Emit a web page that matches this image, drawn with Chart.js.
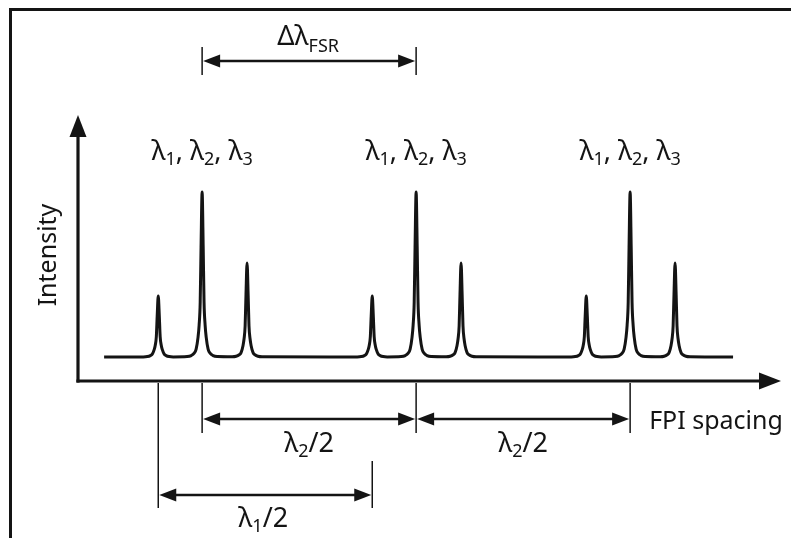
<!DOCTYPE html>
<html>
<head>
<meta charset="utf-8">
<script src="https://cdn.jsdelivr.net/npm/chart.js@4.4.1/dist/chart.umd.min.js"></script>
<style>
  html, body { margin: 0; padding: 0; background: #fff; }
  #wrap { width: 791px; height: 538px; position: relative; }
</style>
</head>
<body>
<div id="wrap"><canvas id="c"></canvas></div>
<script>
// ---- data (x: FPI spacing, arbitrary units; y: intensity, main peak = 1) ----
const order1Spacing = [54.2, 72.5, 74.4, 75.8, 76.7, 77.6, 78.1, 78.6, 79.0, 79.5, 80.0, 80.4, 80.9, 81.4, 82.3, 83.2, 84.6, 86.5,
  93, 94.9, 96.3, 97.2, 98.1, 98.6, 99.1, 99.5, 100, 100.5, 100.9, 101.4, 101.9, 102.8, 103.7, 105.1, 107,
  114, 115.9, 117.3, 118.2, 119.1, 119.6, 120.1, 120.5, 121, 121.5, 121.9, 122.4, 122.9, 123.8, 124.7, 126.1, 128];
const order1Intensity = [0, 0.001, 0.003, 0.009, 0.018, 0.045, 0.072, 0.123, 0.247, 0.37, 0.247, 0.123, 0.072, 0.045, 0.018, 0.009, 0.003, 0.001,
  0.003, 0.009, 0.024, 0.048, 0.121, 0.194, 0.333, 0.667, 1.0, 0.667, 0.333, 0.194, 0.121, 0.048, 0.024, 0.009, 0.003,
  0.002, 0.005, 0.014, 0.027, 0.069, 0.111, 0.19, 0.38, 0.57, 0.38, 0.19, 0.111, 0.069, 0.027, 0.014, 0.005, 0.002];

const order2Spacing = [172.5, 174.4, 175.8, 176.7, 177.6, 178.1, 178.6, 179.0, 179.5, 180.0, 180.4, 180.9, 181.4, 182.3, 183.2, 184.6, 186.5,
  193, 194.9, 196.3, 197.2, 198.1, 198.6, 199.1, 199.5, 200, 200.5, 200.9, 201.4, 201.9, 202.8, 203.7, 205.1, 207,
  214, 215.9, 217.3, 218.2, 219.1, 219.6, 220.1, 220.5, 221, 221.5, 221.9, 222.4, 222.9, 223.8, 224.7, 226.1, 228];
const order2Intensity = [0.001, 0.003, 0.009, 0.018, 0.045, 0.072, 0.123, 0.247, 0.37, 0.247, 0.123, 0.072, 0.045, 0.018, 0.009, 0.003, 0.001,
  0.003, 0.009, 0.024, 0.048, 0.121, 0.194, 0.333, 0.667, 1.0, 0.667, 0.333, 0.194, 0.121, 0.048, 0.024, 0.009, 0.003,
  0.002, 0.005, 0.014, 0.027, 0.069, 0.111, 0.19, 0.38, 0.57, 0.38, 0.19, 0.111, 0.069, 0.027, 0.014, 0.005, 0.002];

const order3Spacing = [272.5, 274.4, 275.8, 276.7, 277.6, 278.1, 278.6, 279.0, 279.5, 280.0, 280.4, 280.9, 281.4, 282.3, 283.2, 284.6, 286.5,
  293, 294.9, 296.3, 297.2, 298.1, 298.6, 299.1, 299.5, 300, 300.5, 300.9, 301.4, 301.9, 302.8, 303.7, 305.1, 307,
  314, 315.9, 317.3, 318.2, 319.1, 319.6, 320.1, 320.5, 321, 321.5, 321.9, 322.4, 322.9, 323.8, 324.7, 326.1, 328, 348.1];
const order3Intensity = [0.001, 0.003, 0.009, 0.018, 0.045, 0.072, 0.123, 0.247, 0.37, 0.247, 0.123, 0.072, 0.045, 0.018, 0.009, 0.003, 0.001,
  0.003, 0.009, 0.024, 0.048, 0.121, 0.194, 0.333, 0.667, 1.0, 0.667, 0.333, 0.194, 0.121, 0.048, 0.024, 0.009, 0.003,
  0.002, 0.005, 0.014, 0.027, 0.069, 0.111, 0.19, 0.38, 0.57, 0.38, 0.19, 0.111, 0.069, 0.027, 0.014, 0.005, 0.002, 0];

// peak positions (FPI spacing units)
const mainPeaks = [100, 200, 300];            // λ2 orders
const lambda1Peaks = [79.5, 179.5];           // λ1 orders used for λ1/2
const peakLabels = ['λ_1, λ_2, λ_3', 'λ_1, λ_2, λ_3', 'λ_1, λ_2, λ_3'];
const fsrSpan = [100, 200];
const fsrLabel = 'Δλ_{FSR}';
const halfLambda2Spans = [[100, 200], [200, 300]];
const halfLambda2Label = 'λ_2/2';
const halfLambda1Span = [79.5, 179.5];
const halfLambda1Label = 'λ_1/2';
const xTitle = 'FPI spacing';
const yTitle = 'Intensity';
const xRange = [42, 370.5];
const yRange = [-0.145, 1.467];

// ---- build points ----
const points = [];
[[order1Spacing, order1Intensity], [order2Spacing, order2Intensity], [order3Spacing, order3Intensity]].forEach(([xs, ys]) => {
  xs.forEach((x, i) => points.push({ x: x, y: ys[i] }));
});

const FONT = '"Noto Sans", "Open Sans", sans-serif';
const INK = '#141414';

function parseRich(s) {
  const segs = []; let i = 0, buf = '';
  while (i < s.length) {
    if (s[i] === '_') {
      if (buf) { segs.push({ t: buf, sub: false }); buf = ''; }
      if (s[i + 1] === '{') { const j = s.indexOf('}', i); segs.push({ t: s.slice(i + 2, j), sub: true }); i = j + 1; }
      else { segs.push({ t: s[i + 1], sub: true }); i += 2; }
    } else { buf += s[i]; i++; }
  }
  if (buf) segs.push({ t: buf, sub: false });
  return segs;
}
function drawRich(ctx, s, x, y, align, size, subSize, subDrop) {
  const segs = parseRich(s);
  let w = 0;
  segs.forEach(g => { ctx.font = (g.sub ? subSize : size) + 'px ' + FONT; g.w = ctx.measureText(g.t).width; w += g.w; });
  let cx = align === 'center' ? x - w / 2 : (align === 'right' ? x - w : x);
  ctx.textAlign = 'left'; ctx.textBaseline = 'alphabetic';
  segs.forEach(g => {
    ctx.font = (g.sub ? subSize : size) + 'px ' + FONT;
    ctx.fillText(g.t, cx, g.sub ? y + subDrop : y);
    cx += g.w;
  });
}
function head(ctx, tx, ty, dir, len, half) {
  // dir: 'left','right','up'
  ctx.beginPath();
  if (dir === 'left') { ctx.moveTo(tx, ty); ctx.lineTo(tx + len, ty - half); ctx.lineTo(tx + len, ty + half); }
  else if (dir === 'right') { ctx.moveTo(tx, ty); ctx.lineTo(tx - len, ty - half); ctx.lineTo(tx - len, ty + half); }
  else { ctx.moveTo(tx, ty); ctx.lineTo(tx - half, ty + len); ctx.lineTo(tx + half, ty + len); }
  ctx.closePath(); ctx.fill();
}
function vline(ctx, x, y1, y2, w) {
  ctx.lineWidth = w; ctx.beginPath(); ctx.moveTo(x, y1); ctx.lineTo(x, y2); ctx.stroke();
}
function dimArrow(ctx, x1, x2, y) {
  ctx.lineWidth = 2.6;
  ctx.beginPath(); ctx.moveTo(x1 + 10, y); ctx.lineTo(x2 - 10, y); ctx.stroke();
  head(ctx, x1 + 1, y, 'left', 17, 6.5);
  head(ctx, x2 - 1, y, 'right', 17, 6.5);
}

const sketchPlugin = {
  id: 'sketch',
  afterDraw(chart) {
    const ctx = chart.ctx, xs = chart.scales.x, ys = chart.scales.y, a = chart.chartArea;
    const X = v => xs.getPixelForValue(v);
    ctx.save();
    ctx.strokeStyle = INK; ctx.fillStyle = INK; ctx.lineCap = 'butt';

    // frame
    ctx.lineWidth = 3;
    ctx.beginPath(); ctx.moveTo(10.5, 540); ctx.lineTo(10.5, 9.5); ctx.lineTo(795, 9.5); ctx.stroke();

    // axes
    const ox = X(xRange[0]), oy = ys.getPixelForValue(yRange[0]);
    ctx.lineWidth = 3.2;
    ctx.beginPath(); ctx.moveTo(ox, oy + 1.6); ctx.lineTo(ox, a.top + 14); ctx.stroke();
    ctx.beginPath(); ctx.moveTo(ox - 1.6, oy); ctx.lineTo(a.right - 14, oy); ctx.stroke();
    head(ctx, ox, a.top, 'up', 22, 8.5);
    head(ctx, a.right, oy, 'right', 22, 8.5);

    // FSR dimension
    const fy = a.top - 54;
    vline(ctx, X(fsrSpan[0]), fy - 14, fy + 14, 1.5);
    vline(ctx, X(fsrSpan[1]), fy - 14, fy + 14, 1.5);
    dimArrow(ctx, X(fsrSpan[0]), X(fsrSpan[1]), fy);
    drawRich(ctx, fsrLabel, (X(fsrSpan[0]) + X(fsrSpan[1])) / 2 - 1, a.top - 70, 'center', 27, 18, 7);

    // peak labels
    mainPeaks.forEach((p, i) => drawRich(ctx, peakLabels[i], X(p), a.top + 45, 'center', 27, 18, 5));

    // ticks below axis
    const t0 = oy + 2;
    mainPeaks.forEach(p => vline(ctx, X(p), t0, a.bottom + 52, 1.5));
    vline(ctx, X(lambda1Peaks[0]), t0, a.bottom + 127, 1.5);
    vline(ctx, X(lambda1Peaks[1]), a.bottom + 80, a.bottom + 127, 1.5);

    // λ2/2 arrows
    halfLambda2Spans.forEach(s => {
      dimArrow(ctx, X(s[0]), X(s[1]), a.bottom + 38);
      drawRich(ctx, halfLambda2Label, (X(s[0]) + X(s[1])) / 2, a.bottom + 71, 'center', 27, 18, 5);
    });
    // λ1/2 arrow
    dimArrow(ctx, X(halfLambda1Span[0]), X(halfLambda1Span[1]), a.bottom + 114);
    drawRich(ctx, halfLambda1Label, (X(halfLambda1Span[0]) + X(halfLambda1Span[1])) / 2 - 2, a.bottom + 146, 'center', 27, 18, 5);

    // axis titles
    drawRich(ctx, xTitle, X(mainPeaks[2]) + 19, a.bottom + 48, 'left', 25, 17, 5);
    ctx.save();
    ctx.translate(a.left - 22, (a.top + a.bottom) / 2 + 7);
    ctx.rotate(-Math.PI / 2);
    drawRich(ctx, yTitle, 0, 0, 'center', 25, 17, 5);
    ctx.restore();

    ctx.restore();
  }
};

new Chart(document.getElementById('c'), {
  type: 'line',
  data: {
    datasets: [{
      data: points,
      borderColor: INK,
      borderWidth: 3,
      pointRadius: 0,
      fill: false,
      cubicInterpolationMode: 'monotone',
      borderJoinStyle: 'round',
      borderCapStyle: 'butt'
    }]
  },
  options: {
    responsive: true,
    maintainAspectRatio: false,
    animation: false,
    events: [],
    layout: { padding: { left: 78, right: 10, top: 115, bottom: 157 } },
    plugins: { legend: { display: false }, tooltip: { enabled: false } },
    scales: {
      x: { type: 'linear', min: xRange[0], max: xRange[1], display: false },
      y: { type: 'linear', min: yRange[0], max: yRange[1], display: false }
    }
  },
  plugins: [sketchPlugin]
});
</script>
</body>
</html>
